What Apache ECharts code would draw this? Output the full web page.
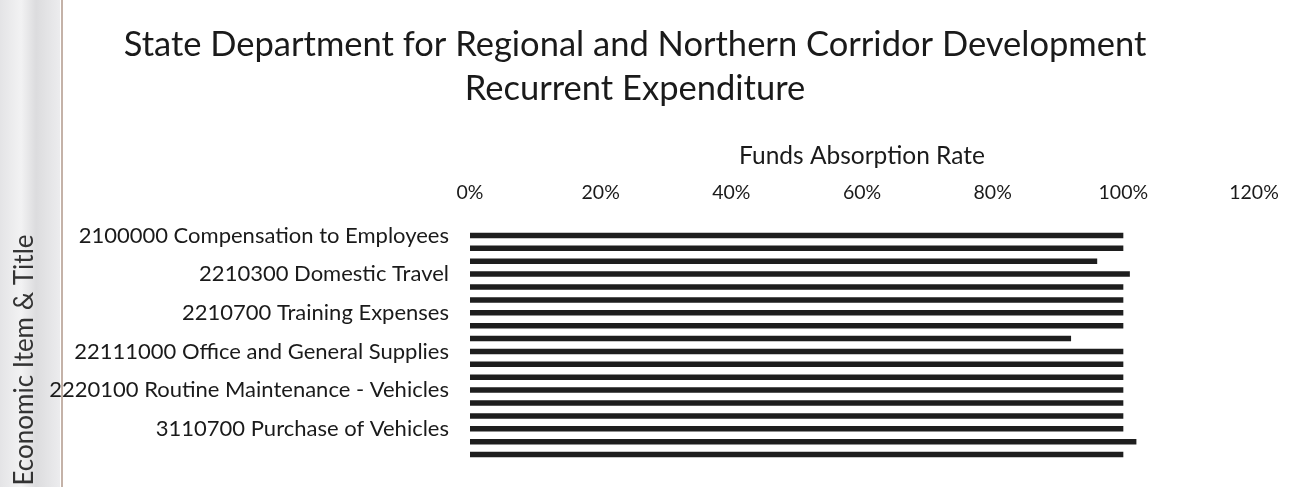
<!DOCTYPE html>
<html>
<head>
<meta charset="utf-8">
<script src="https://cdn.jsdelivr.net/npm/echarts@6/dist/echarts.min.js"></script>
<style>
html,body{margin:0;padding:0;background:#fff;}
#chart{width:1296px;height:487px;}
</style>
</head>
<body>
<div id="chart"></div>
<script>
const titleLines = ['State Department for Regional and Northern Corridor Development', 'Recurrent Expenditure'];
const xAxisName = 'Funds Absorption Rate';
const yAxisName = 'Economic Item & Title';
const categories = [
  '2100000 Compensation to Employees',
  '2210100 Utilities Supplies and Services',
  '2210200 Communication, Supplies and Services',
  '2210300 Domestic Travel',
  '2210400 Foreign Travel',
  '2210500 Printing, Advertising and Information',
  '2210700 Training Expenses',
  '2210800 Hospitality Supplies and Services',
  '2210900 Insurance Costs',
  '22111000 Office and General Supplies',
  '2211200 Fuel Oil and Lubricants',
  '2211300 Other Operating Expenses',
  '2220100 Routine Maintenance - Vehicles',
  '2220200 Routine Maintenance - Other Assets',
  '3110300 Refurbishment of Buildings',
  '3110700 Purchase of Vehicles',
  '3111000 Purchase of Office Furniture',
  '3111100 Purchase of Specialised Plant'
];
const absorptionRate = [100, 100, 96, 101, 100, 100, 100, 100, 92, 100, 100, 100, 100, 100, 100, 100, 102, 100];
const xTicks = [0, 20, 40, 60, 80, 100, 120];

const chart = echarts.init(document.getElementById('chart'), null, {renderer: 'canvas'});
const FONT = 'Lato';
chart.setOption({
  backgroundColor: '#ffffff',
  animation: false,
  title: {
    text: titleLines.join('\n'),
    left: 630,
    textAlign: 'center',
    top: 18,
    textStyle: {fontFamily: FONT, fontSize: 34.5, fontWeight: 'normal', color: '#1a1a1a', lineHeight: 44}
  },
  graphic: [
    {type: 'rect', left: 0, top: 0, shape: {width: 60, height: 487}, silent: true, z: -1,
     style: {fill: new echarts.graphic.LinearGradient(0, 0, 1, 0, [
       {offset: 0, color: '#e4e4e6'}, {offset: 0.35, color: '#f2f2f3'}, {offset: 0.6, color: '#dcdcde'}, {offset: 1, color: '#ececee'}])}},
    {type: 'rect', left: 61, top: 0, shape: {width: 2, height: 487}, silent: true, z: -1, style: {fill: '#c4b2a8'}}
  ],
  grid: {left: 470, right: 42, top: 229, bottom: 26, containLabel: false, outerBoundsMode: 'none'},
  xAxis: {
    type: 'value',
    position: 'top',
    min: xTicks[0],
    max: xTicks[xTicks.length - 1],
    interval: 20,
    name: xAxisName,
    nameLocation: 'middle',
    nameGap: 60,
    nameTextStyle: {fontFamily: FONT, fontSize: 24.5, color: '#1a1a1a'},
    axisLine: {show: false},
    axisTick: {show: false},
    splitLine: {show: false},
    axisLabel: {margin: 26, fontFamily: FONT, fontSize: 19.5, color: '#1a1a1a', formatter: v => v + '%'}
  },
  yAxis: {
    type: 'category',
    inverse: true,
    data: categories,
    name: yAxisName,
    nameLocation: 'middle',
    nameGap: 432,
    nameRotate: 90,
    nameTextStyle: {fontFamily: FONT, fontSize: 26, color: '#333', padding: [0, 30, 0, 0]},
    axisLine: {show: false},
    axisTick: {show: false},
    splitLine: {show: false},
    axisLabel: {interval: 2, margin: 21, fontFamily: FONT, fontSize: 22, color: '#1a1a1a'}
  },
  series: [{
    type: 'bar',
    data: absorptionRate,
    barWidth: 5.5,
    itemStyle: {color: '#1e1e1e'}
  }]
});
</script>
</body>
</html>
